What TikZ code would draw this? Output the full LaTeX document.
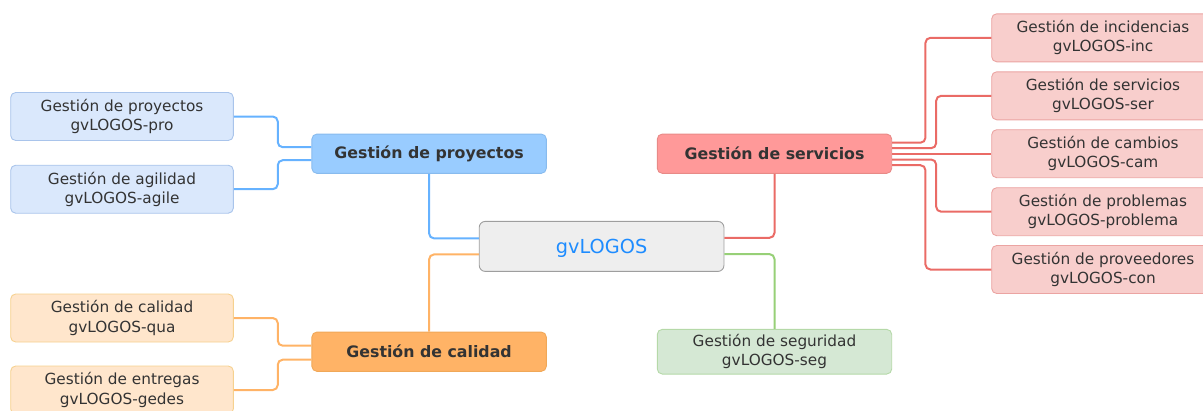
\documentclass[tikz,border=0pt]{standalone}
\usepackage{fontspec}
\setmainfont{DejaVu Sans}
\definecolor{txt}{HTML}{333333}
\definecolor{bleaffill}{HTML}{DAE8FC}
\definecolor{bleafdraw}{HTML}{A9C4EB}
\definecolor{bmainfill}{HTML}{99CCFF}
\definecolor{bmaindraw}{HTML}{88BBEE}
\definecolor{bline}{HTML}{66B2FF}
\definecolor{oleaffill}{HTML}{FFE6CC}
\definecolor{oleafdraw}{HTML}{F6D18F}
\definecolor{omainfill}{HTML}{FFB366}
\definecolor{omaindraw}{HTML}{F0A858}
\definecolor{oline}{HTML}{FFB366}
\definecolor{rleaffill}{HTML}{F8CECC}
\definecolor{rleafdraw}{HTML}{EBA4A2}
\definecolor{rmainfill}{HTML}{FF9999}
\definecolor{rmaindraw}{HTML}{E88A87}
\definecolor{rline}{HTML}{EA6B66}
\definecolor{gleaffill}{HTML}{D5E8D4}
\definecolor{gleafdraw}{HTML}{B5D9A8}
\definecolor{gline}{HTML}{97D077}
\definecolor{rootfill}{HTML}{EEEEEE}
\definecolor{rootdraw}{HTML}{9E9E9E}
\definecolor{roottxt}{HTML}{1E8CFF}
\begin{document}
\begin{tikzpicture}[x=1pt,y=-1pt,
  box/.style={rectangle, rounded corners=5pt, line width=0.9pt, inner sep=0pt, align=center, text=txt},
  leaf/.style={box, minimum width=222.6pt, minimum height=48pt, font=\fontsize{15.3}{19.2}\selectfont,
    execute at begin node={\rule{0pt}{16pt}}},
  mainbox/.style={box, minimum width=234.4pt, minimum height=39.3pt, font=\fontsize{15.8}{19}\selectfont\bfseries},
  bleaf/.style={leaf, fill=bleaffill, draw=bleafdraw},
  oleaf/.style={leaf, fill=oleaffill, draw=oleafdraw},
  rleaf/.style={leaf, fill=rleaffill, draw=rleafdraw},
  conn/.style={line width=2pt, rounded corners=5pt},
  rootbox/.style={rectangle, rounded corners=6pt, line width=0.9pt, inner sep=0pt,
    fill=rootfill, draw=rootdraw, minimum width=244.7pt, minimum height=50pt,
    text height=14.1pt, text depth=0pt,
    font=\fontsize{19.3}{22}\selectfont, text=roottxt},
]
\useasboundingbox (0,0) rectangle (1203,410);
\clip (0,0) rectangle (1203,410);

% root
\node[rootbox, anchor=center] (root) at (601.6,246.4) {gvLOGOS};

% main branches
\node[mainbox, fill=bmainfill, draw=bmaindraw] (proy) at (429.1,153.7) {Gestión de proyectos};
\node[mainbox, fill=omainfill, draw=omaindraw] (cal) at (429.1,351.7) {Gestión de calidad};
\node[mainbox, fill=rmainfill, draw=rmaindraw] (serv) at (774.5,153.7) {Gestión de servicios};
\node[leaf, fill=gleaffill, draw=gleafdraw, minimum width=234.4pt, minimum height=44.7pt] (seg) at (774.5,351.7) {Gestión de seguridad\\gvLOGOS-seg};

% left leaves
\node[bleaf] (pro) at (122,116.5) {Gestión de proyectos\\gvLOGOS-pro};
\node[bleaf] (agile) at (122,189.2) {Gestión de agilidad\\gvLOGOS-agile};
\node[oleaf] (qua) at (122,318) {Gestión de calidad\\gvLOGOS-qua};
\node[oleaf] (gedes) at (122,390) {Gestión de entregas\\gvLOGOS-gedes};

% right leaves
\node[rleaf] (inc) at (1103,37.8) {Gestión de incidencias\\gvLOGOS-inc};
\node[rleaf] (ser) at (1103,95.8) {Gestión de servicios\\gvLOGOS-ser};
\node[rleaf] (cam) at (1103,153.7) {Gestión de cambios\\gvLOGOS-cam};
\node[rleaf] (prob) at (1103,211.7) {Gestión de problemas\\gvLOGOS-problema};
\node[rleaf] (con) at (1103,269.5) {Gestión de proveedores\\gvLOGOS-con};

% root connectors
\draw[conn, draw=bline] ([yshift=8pt]root.west) -| (proy.south);
\draw[conn, draw=oline] ([yshift=-8pt]root.west) -| (cal.north);
\draw[conn, draw=rline] ([yshift=8.6pt]root.east) -| (serv.south);
\draw[conn, draw=gline] ([yshift=-7.7pt]root.east) -| (seg.north);

% proyectos connectors
\draw[conn, draw=bline] ([yshift=6.5pt]proy.west) -- ++(-33.7,0) |- (pro.east);
\draw[conn, draw=bline] ([yshift=-6.5pt]proy.west) -- ++(-33.7,0) |- (agile.east);

% calidad connectors
\draw[conn, draw=oline] ([yshift=6pt]cal.west) -- ++(-33.7,0) |- (qua.east);
\draw[conn, draw=oline] ([yshift=-8pt]cal.west) -- ++(-33.7,0) |- (gedes.east);

% servicios connectors
\draw[conn, draw=rline] ([yshift=11pt]serv.east) -- ++(33.3,0) |- (inc.west);
\draw[conn, draw=rline] ([yshift=5.5pt]serv.east) -- ++(44,0) |- (ser.west);
\draw[conn, draw=rline] (serv.east) -- (cam.west);
\draw[conn, draw=rline] ([yshift=-5.8pt]serv.east) -- ++(44,0) |- (prob.west);
\draw[conn, draw=rline] ([yshift=-11.5pt]serv.east) -- ++(33.3,0) |- (con.west);
\end{tikzpicture}
\end{document}
